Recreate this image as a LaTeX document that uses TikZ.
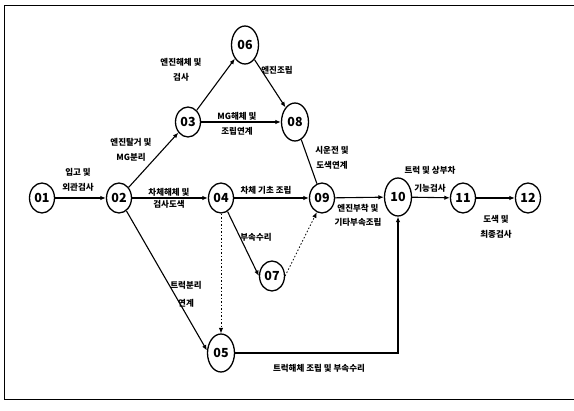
\documentclass[tikz,border=0pt]{standalone}
\usepackage{fontspec}
\setmainfont{Noto Sans CJK KR}
\usetikzlibrary{arrows.meta,shapes.geometric}

\begin{document}
\begin{tikzpicture}[
  x=1pt, y=-1pt,
  evnode/.style={ellipse, draw, line width=1.3pt, minimum width=25pt, minimum height=30pt,
                 inner sep=0pt, font=\bfseries\fontsize{12.5}{12.5}\selectfont},
  bignode/.style={evnode, minimum width=27pt, minimum height=38pt},
  actlabel/.style={align=center, inner sep=0pt, font=\bfseries\fontsize{8.5}{15}\selectfont},
  act/.style={-{Latex[length=5.5pt,width=4.5pt]}, line width=1.1pt},
  dummy/.style={act, line width=0.8pt, dash pattern=on 1.5pt off 2pt},
  >=Latex
]
\useasboundingbox (0,0) rectangle (574,411);

% Frame
\draw[line width=0.9pt] (574,5) -- (4,5) -- (4,399) -- (574,399);

% Event nodes
\node[evnode]  (n01) at (42,198)  {01};
\node[evnode]  (n02) at (119,198) {02};
\node[evnode]  (n03) at (188,122) {03};
\node[bignode] (n06) at (245,45)  {06};
\node[bignode] (n08) at (295,122) {08};
\node[evnode]  (n04) at (221,198) {04};
\node[evnode]  (n09) at (322,198) {09};
\node[bignode] (n10) at (398,197) {10};
\node[evnode]  (n11) at (463,198) {11};
\node[evnode]  (n12) at (528,198) {12};
\node[evnode]  (n07) at (272,276) {07};
\node[bignode] (n05) at (221,353) {05};

% Activities
\draw[act] (n01) -- (n02);
\draw[act] (n02) -- (n03);
\draw[act] (n03) -- (n06);
\draw[act] (n06) -- (n08);
\draw[act] (n03) -- (n08);
\draw[line width=1.1pt] (n08) -- (n09);
\draw[act] (n02) -- (n04);
\draw[act] (n04) -- (n09);
\draw[act] (n09) -- (n10);
\draw[act] (n10) -- (n11);
\draw[act] (n11) -- (n12);
\draw[act] (n04) -- (n07.west);
\draw[act] (n02) -- (n05.170);
\draw[act] (n05.east) -| (n10.south);

% Dummy activities
\draw[dummy] (n07.east) -- (n09.250);
\draw[dummy] (n04.south) -- (n05.north);

% Activity labels
\node[actlabel] (l0102) at (78,180)  {입고 및\\외관검사};
\node[actlabel] (l0203) at (131,150) {엔진탈거 및\\MG분리};
\node[actlabel] (l0306) at (181,70)  {엔진해체 및\\검사};
\node[actlabel] (l0608) at (277,70)  {엔진조립};
\node[actlabel] (l0308) at (237,124) {MG해체 및\\조립연계};
\node[actlabel] (l0809) at (332,158) {시운전 및\\도색연계};
\node[actlabel, font=\bfseries\fontsize{8.5}{12}\selectfont] (l0204) at (169,198) {차체해체 및\\검사도색};
\node[actlabel] (l0409) at (266,190) {차체 기초 조립};
\node[actlabel] (l0407) at (256,237) {부속수리};
\node[actlabel, font=\bfseries\fontsize{8.5}{14}\selectfont] (l0910) at (358,215) {엔진부착 및\\기타부속조립};
\node[actlabel, font=\bfseries\fontsize{8.5}{18}\selectfont] (l1011) at (430,179) {트럭 및 상부차\\기능검사};
\node[actlabel] (l1112) at (496,227) {도색 및\\최종검사};
\node[actlabel, font=\bfseries\fontsize{8.5}{18}\selectfont] (l0205) at (186,294) {트럭분리\\연계};
\node[actlabel] (l0510) at (319,368) {트럭해체 조립 및 부속수리};

\end{tikzpicture}
\end{document}
